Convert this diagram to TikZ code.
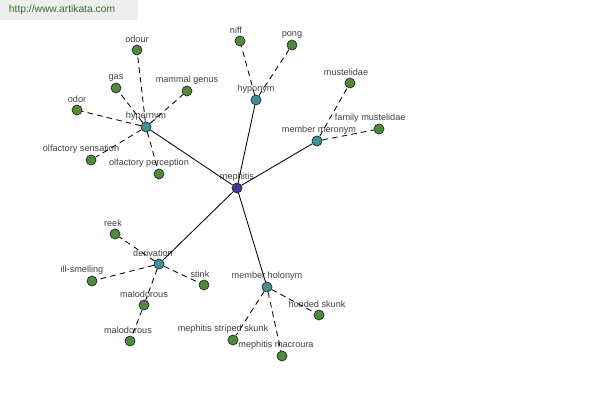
\documentclass[tikz,border=0pt]{standalone}
\usepackage{fontspec}
\setmainfont{Liberation Sans}
\definecolor{leafgreen}{HTML}{4E8C3C}
\definecolor{hubteal}{HTML}{3E9494}
\definecolor{rootblue}{HTML}{3C3C94}
\definecolor{labelgray}{HTML}{404040}
\definecolor{markgray}{HTML}{EEEEEE}
\definecolor{markgreen}{HTML}{3D6B2E}

\begin{document}
\begin{tikzpicture}[x=0.025cm,y=-0.025cm,
        leaf/.style={circle,draw=black!85,line width=0.5pt,fill=leafgreen,minimum size=0.25cm,inner sep=0pt},
        hub/.style={leaf,fill=hubteal},
        root/.style={leaf,fill=rootblue},
        lbl/.style={font=\fontsize{6.5}{7}\selectfont,text=labelgray,inner sep=0.5pt,label distance=0.5pt},
        link/.style={line width=0.6pt},
        sublink/.style={line width=0.6pt,dash pattern=on 4pt off 3pt}]
        \useasboundingbox (0,0) rectangle (600,400);
        \fill[markgray] (0,0) rectangle (138,20);
        \node[font=\fontsize{7.3}{8}\selectfont,text=markgreen] (site) at (62,10) {http://www.artikata.com};

        % centre and relation nodes
        \node[root,label={[lbl]above:mephitis}] (mephitis) at (237,188) {};
        \node[hub,label={[lbl]above:hypernym}] (hypernym) at (146,127) {};
        \node[hub,label={[lbl]above:hyponym}] (hyponym) at (256,100) {};
        \node[hub,label={[lbl,xshift=0.05cm]above:member meronym}] (meronym) at (317,141) {};
        \node[hub,label={[lbl,xshift=-0.15cm]above:derivation}] (derivation) at (159,264) {};
        \node[hub,label={[lbl]above:member holonym}] (holonym) at (267,287) {};

        % words
        \node[leaf,label={[lbl]above:odour}] (odour) at (137,50) {};
        \node[leaf,label={[lbl]above:gas}] (gas) at (116,88) {};
        \node[leaf,label={[lbl]above:mammal genus}] (genus) at (187,91) {};
        \node[leaf,label={[lbl]above:odor}] (odor) at (77,110) {};
        \node[leaf,label={[lbl,xshift=-0.25cm]above:olfactory sensation}] (sensation) at (91,160) {};
        \node[leaf,label={[lbl,xshift=-0.25cm]above:olfactory perception}] (perception) at (159,174) {};
        \node[leaf,label={[lbl,xshift=-0.1cm]above:niff}] (niff) at (240,41) {};
        \node[leaf,label={[lbl]above:pong}] (pong) at (292,45) {};
        \node[leaf,label={[lbl,xshift=-0.1cm]above:mustelidae}] (mustelidae) at (350,83) {};
        \node[leaf,label={[lbl,xshift=-0.22cm]above:family mustelidae}] (family) at (379,129) {};
        \node[leaf,label={[lbl,xshift=-0.05cm]above:reek}] (reek) at (115,234) {};
        \node[leaf,label={[lbl,xshift=-0.25cm]above:ill-smelling}] (ill) at (92,281) {};
        \node[leaf,label={[lbl,xshift=-0.1cm]above:stink}] (stink) at (204,285) {};
        \node[leaf,label={[lbl]above:malodorous}] (malodA) at (144,305) {};
        \node[leaf,label={[lbl,xshift=-0.05cm]above:malodorous}] (malodB) at (130,341) {};
        \node[leaf,label={[lbl,xshift=-0.05cm]above:hooded skunk}] (hooded) at (319,315) {};
        \node[leaf,label={[lbl,xshift=-0.25cm]above:mephitis striped skunk}] (striped) at (233,340) {};
        \node[leaf,label={[lbl,xshift=-0.15cm]above:mephitis macroura}] (macroura) at (282,356) {};

        \draw[link] (mephitis) -- (hypernym);
        \draw[link] (mephitis) -- (hyponym);
        \draw[link] (mephitis) -- (meronym);
        \draw[link] (mephitis) -- (derivation);
        \draw[link] (mephitis) -- (holonym);

        \draw[sublink] (hypernym) -- (odour);
        \draw[sublink] (hypernym) -- (gas);
        \draw[sublink] (hypernym) -- (genus);
        \draw[sublink] (hypernym) -- (odor);
        \draw[sublink] (hypernym) -- (sensation);
        \draw[sublink] (hypernym) -- (perception);
        \draw[sublink] (hyponym) -- (niff);
        \draw[sublink] (hyponym) -- (pong);
        \draw[sublink] (meronym) -- (mustelidae);
        \draw[sublink] (meronym) -- (family);
        \draw[sublink] (derivation) -- (reek);
        \draw[sublink] (derivation) -- (ill);
        \draw[sublink] (derivation) -- (stink);
        \draw[sublink] (derivation) -- (malodA);
        \draw[sublink] (malodA) -- (malodB);
        \draw[sublink] (holonym) -- (hooded);
        \draw[sublink] (holonym) -- (striped);
        \draw[sublink] (holonym) -- (macroura);
    \end{tikzpicture}
\end{document}
